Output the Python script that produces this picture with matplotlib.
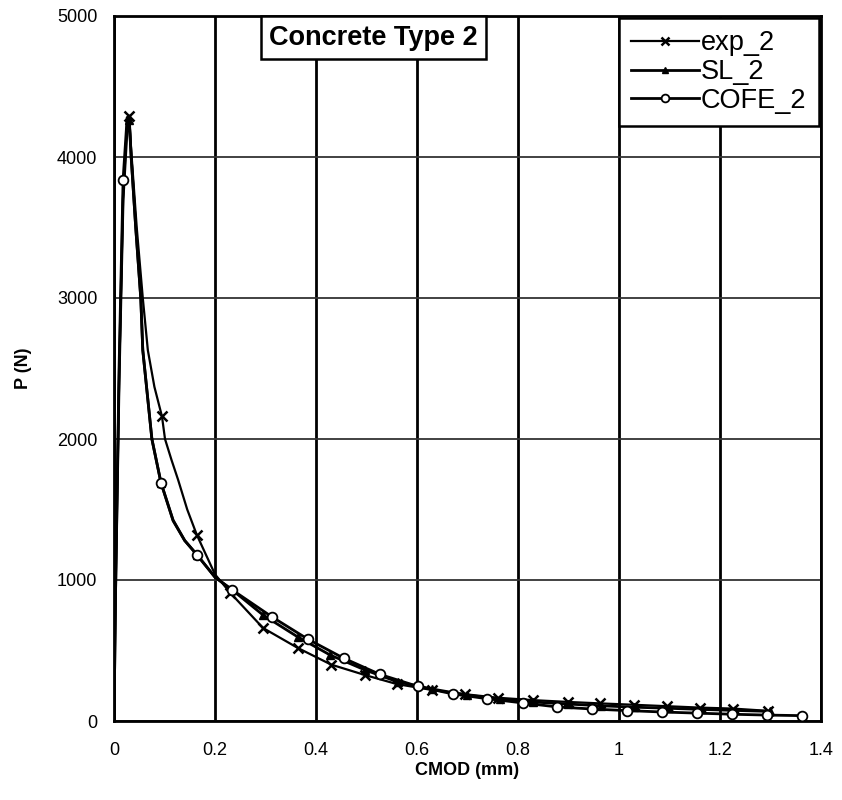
import matplotlib.pyplot as plt

plt.rcParams['font.family'] = ['Liberation Sans', 'DejaVu Sans']

# CMOD (mm) / P (N)
exp_x = [0, 0.003, 0.01, 0.018, 0.026, 0.03, 0.034, 0.045, 0.057, 0.067, 0.08, 0.095, 0.101,
         0.114, 0.127, 0.145, 0.164, 0.2, 0.23, 0.295, 0.364, 0.43, 0.497, 0.56, 0.63, 0.695,
         0.76, 0.83, 0.9, 0.962, 1.03, 1.095, 1.16, 1.226, 1.295]
exp_y = [0, 900, 2400, 3700, 4250, 4290, 4050, 3500, 3000, 2630, 2370, 2160, 2000,
         1850, 1710, 1500, 1320, 1040, 910, 660, 518, 400, 326, 262, 220, 190,
         165, 148, 135, 125, 115, 105, 95, 88, 72]
exp_marks = [5, 11, 16] + list(range(18, 35))

sl_x = [0, 0.003, 0.01, 0.018, 0.026, 0.03, 0.034, 0.043, 0.053, 0.057, 0.075, 0.093, 0.117,
        0.14, 0.164, 0.2, 0.234, 0.295, 0.364, 0.428, 0.497, 0.562, 0.63, 0.699, 0.764,
        0.83, 0.9, 0.965, 1.03, 1.1, 1.165, 1.23, 1.3]
sl_y = [0, 900, 2400, 3700, 4200, 4260, 4000, 3500, 3000, 2630, 2000, 1690, 1425,
        1280, 1180, 1020, 930, 752, 596, 468, 362, 277, 227, 184, 156,
        135, 120, 108, 98, 90, 82, 75, 68]
sl_marks = [5, 11, 14] + list(range(16, 33))

cofe_x = [0, 0.003, 0.01, 0.018, 0.026, 0.03, 0.034, 0.043, 0.053, 0.057, 0.075, 0.093,
          0.117, 0.14, 0.164, 0.2, 0.234, 0.313, 0.384, 0.455, 0.527, 0.602, 0.671, 0.739,
          0.81, 0.877, 0.947, 1.016, 1.085, 1.154, 1.224, 1.293, 1.362]
cofe_y = [0, 900, 2500, 3840, 4280, 4290, 4000, 3500, 3000, 2630, 2000, 1690,
          1420, 1280, 1180, 1020, 930, 738, 580, 445, 330, 245, 192, 158,
          128, 100, 85, 74, 64, 56, 48, 42, 38]
cofe_marks = [3, 11, 14] + list(range(16, 33))

x_ticks = [0, 0.2, 0.4, 0.6, 0.8, 1.0, 1.2, 1.4]
x_labels = ['0', '0.2', '0.4', '0.6', '0.8', '1', '1.2', '1.4']
y_ticks = [0, 1000, 2000, 3000, 4000, 5000]

fig = plt.figure(figsize=(8.42, 8), dpi=100)
ax = fig.add_axes([0.1354, 0.09875, 0.8396, 0.88125])

ax.plot(exp_x, exp_y, color='black', lw=1.6, marker='x', ms=7, mew=1.8,
        markevery=exp_marks, label='exp_2', zorder=3)
ax.plot(sl_x, sl_y, color='black', lw=2.0, marker='^', ms=6,
        markevery=sl_marks, label='SL_2', zorder=3)
ax.plot(cofe_x, cofe_y, color='black', lw=2.0, marker='o', ms=7, mfc='white', mew=1.3,
        markevery=cofe_marks, label='COFE_2', zorder=4)

ax.set_xlim(0, 1.4)
ax.set_ylim(0, 5000)
ax.set_xticks(x_ticks)
ax.set_xticklabels(x_labels)
ax.set_yticks(y_ticks)
ax.tick_params(length=0, labelsize=13)
ax.tick_params(axis='x', pad=15)
ax.tick_params(axis='y', pad=12)

ax.xaxis.grid(True, color='black', lw=2.0)
ax.yaxis.grid(True, color='#333333', lw=1.3)
ax.set_axisbelow(True)
for s in ax.spines.values():
    s.set_color('black')
    s.set_linewidth(2.0)

ax.set_xlabel('CMOD (mm)', fontsize=13, fontweight='bold', labelpad=2)
ax.set_ylabel('P (N)', fontsize=13, fontweight='bold', labelpad=18)

ax.text(0.367, 0.9695, 'Concrete Type 2', transform=ax.transAxes, ha='center', va='center',
        fontsize=19.5, fontweight='bold', zorder=5,
        bbox=dict(boxstyle='square,pad=0.3', fc='white', ec='black', lw=1.8))

leg = ax.legend(loc='upper right', fontsize=19.5, frameon=True, fancybox=False,
                borderaxespad=0.08, handlelength=2.5, handletextpad=0.08,
                labelspacing=0.1, borderpad=0.45, markerscale=0.8)
leg.get_frame().set_edgecolor('black')
leg.get_frame().set_linewidth(1.8)
leg.get_frame().set_alpha(1)

fig.savefig('out.png', dpi=100)
